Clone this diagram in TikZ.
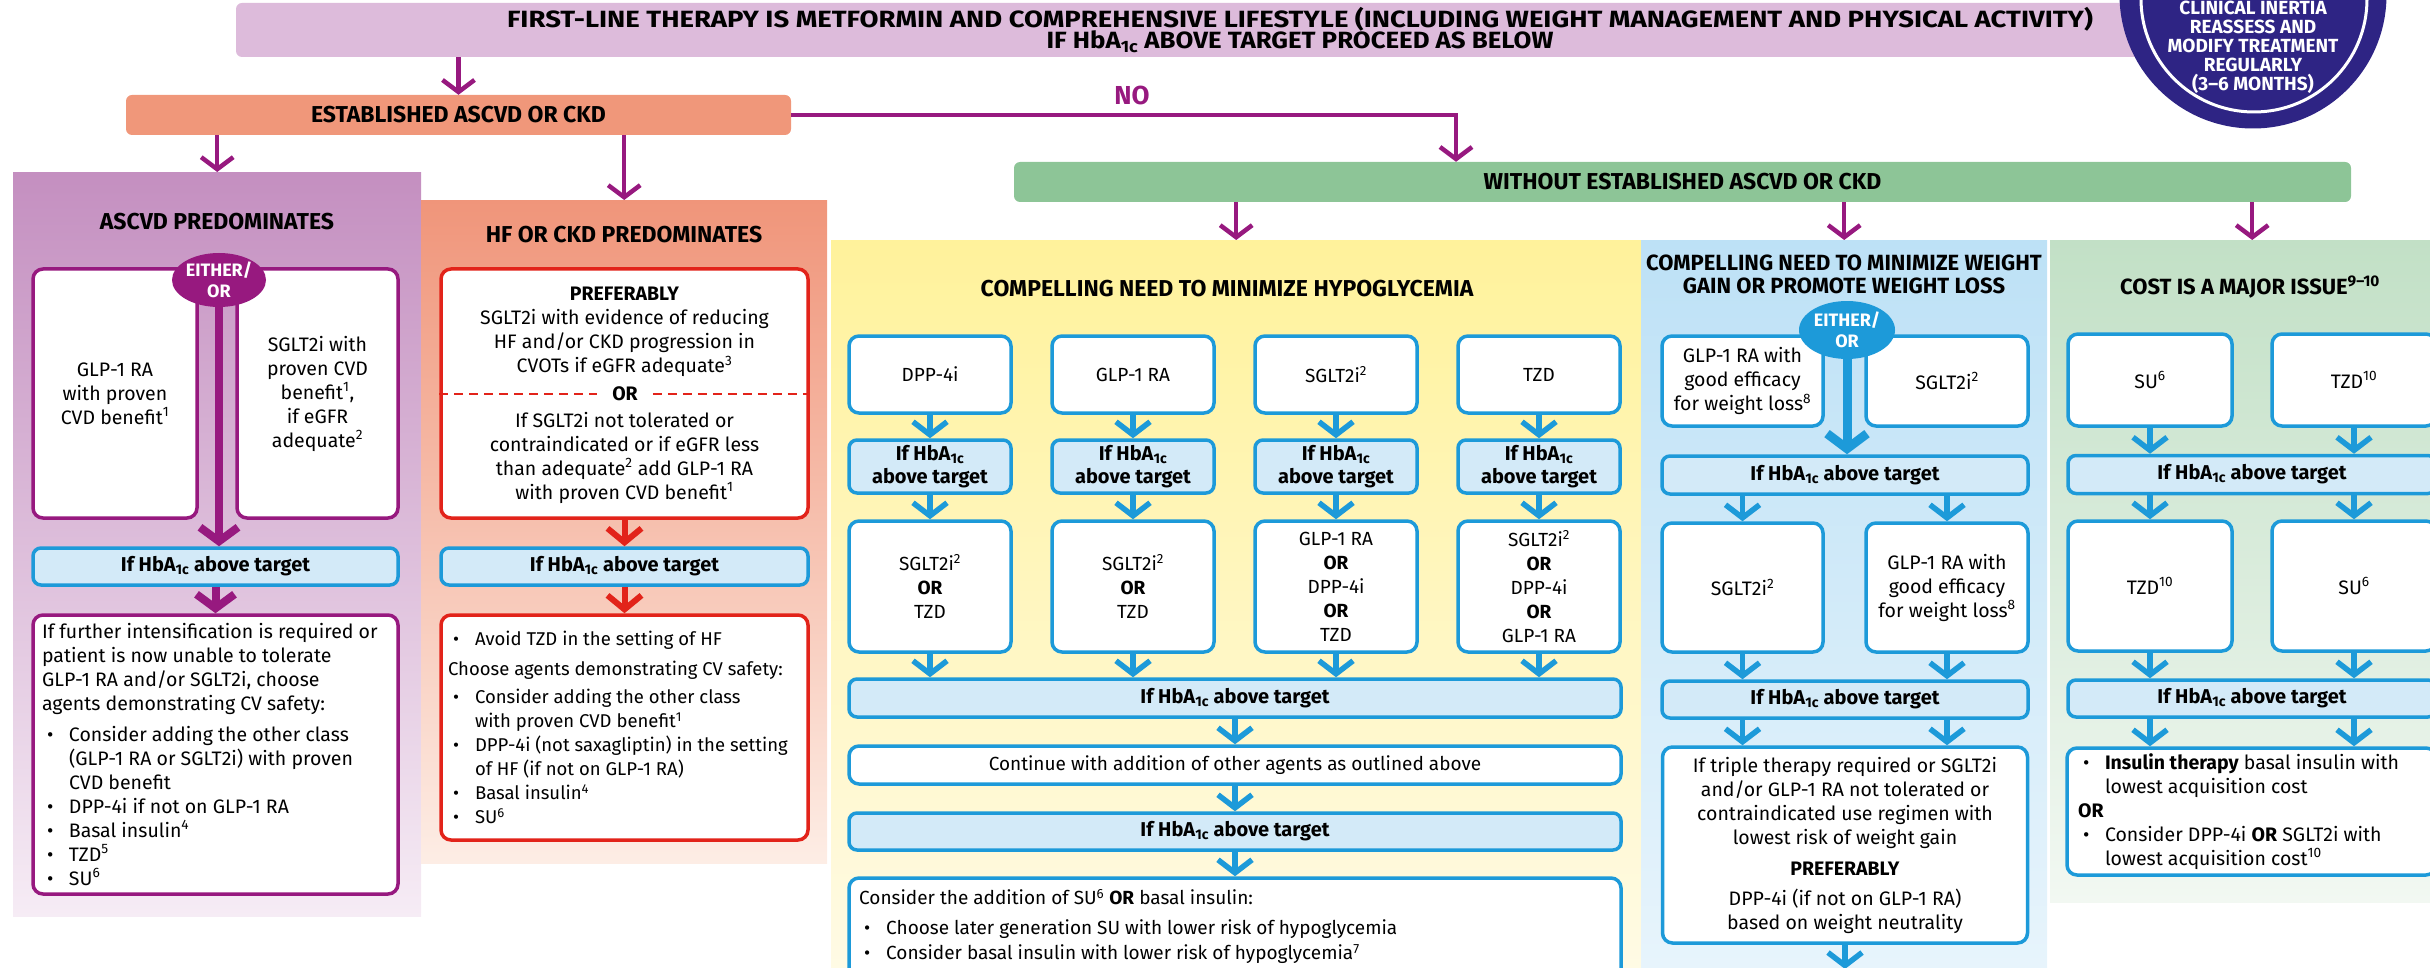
\documentclass[tikz,border=0pt]{standalone}
\usepackage{fontspec}
\setmainfont{Fira Sans}
\newfontfamily\widefont[FakeStretch=1.17]{Fira Sans}
\newfontfamily\semiwidefont[FakeStretch=1.1]{Fira Sans}
\usetikzlibrary{arrows.meta,shapes.geometric}

\definecolor{navy}{HTML}{2E2484}
\definecolor{plum}{HTML}{97197F}
\definecolor{hdrpink}{HTML}{DDBBDB}
\definecolor{salmon}{HTML}{F0977A}
\definecolor{leaf}{HTML}{8DC597}
\definecolor{sky}{HTML}{1D9AD9}
\definecolor{skyfill}{HTML}{D3EAF8}
\definecolor{alarm}{HTML}{E2231A}
\definecolor{ascTop}{HTML}{C48FC0}
\definecolor{ascBot}{HTML}{F6ECF5}
\definecolor{hfTop}{HTML}{F0957A}
\definecolor{hfBot}{HTML}{FDEDE5}
\definecolor{hypTop}{HTML}{FFF29B}
\definecolor{hypBot}{HTML}{FFFBE8}
\definecolor{wtTop}{HTML}{BDE1F6}
\definecolor{wtBot}{HTML}{E9F5FC}
\definecolor{costTop}{HTML}{C2E0C6}
\definecolor{costBot}{HTML}{F2F8F2}

\newcommand{\hba}{HbA\textsubscript{1c}}
\newcommand{\bul}{\par\hangindent=27pt\hangafter=1\noindent\makebox[27pt][l]{\hspace{5pt}\textbullet}}
\newcommand{\tightlines}{\setlength{\lineskiplimit}{-10pt}}

\tikzset{
  hdrbox/.style={rectangle, rounded corners=6pt, inner sep=0pt, align=center,
    font=\bfseries\fontsize{23}{21}\selectfont\tightlines},
  column/.style={rectangle, inner sep=0pt, anchor=north west},
  coltitle/.style={align=center, font=\bfseries\fontsize{22}{23}\selectfont},
  pbox/.style={draw=plum, line width=3.5pt, fill=white, rounded corners=10pt,
    align=center, inner sep=0pt, font=\fontsize{19.5}{24}\selectfont},
  rbox/.style={pbox, draw=alarm},
  wbox/.style={pbox, draw=sky},
  ybox/.style={wbox, font=\fontsize{19}{24}\selectfont},
  hbabox/.style={draw=sky, line width=3.5pt, fill=skyfill, rounded corners=8pt,
    align=center, inner sep=0pt, font=\bfseries\fontsize{20}{23}\selectfont},
  either/.style={ellipse, inner sep=0pt, text=white, align=center,
    font=\bfseries\fontsize{18}{21}\selectfont},
  parr/.style={draw=plum, line width=4.5pt, -{Straight Barb[length=12pt,width=32pt]}},
  parrw/.style={parr, line width=8pt, -{Straight Barb[length=14pt,width=38pt]}},
  rarr/.style={draw=alarm, line width=6pt, -{Straight Barb[length=14pt,width=34pt]}},
  barr/.style={draw=sky, line width=5.5pt, -{Straight Barb[length=13pt,width=34pt]}},
  barrw/.style={barr, line width=9pt, -{Straight Barb[length=15pt,width=40pt]}},
}

\begin{document}
\begin{tikzpicture}[x=1pt, y=-1pt]
\useasboundingbox (0,0) rectangle (2430,968);
\clip (0,0) rectangle (2430,968);

% Header and reminder circle
\node[hdrbox, fill=hdrpink, minimum width=2128pt, minimum height=54pt, font=\bfseries\fontsize{23.5}{21}\selectfont\tightlines] (hdr) at (1300,30)
  {{\widefont FIRST-LINE THERAPY IS METFORMIN AND COMPREHENSIVE LIFESTYLE (INCLUDING WEIGHT MANAGEMENT AND PHYSICAL ACTIVITY)}\\{\semiwidefont IF \hba{} ABOVE TARGET PROCEED AS BELOW}};
\node[circle, fill=navy, inner sep=0pt, minimum size=267pt] (inertia) at (2253,-5) {};
\node[circle, draw=white, line width=3pt, inner sep=0pt, minimum size=226pt] (ring) at (2254,-1) {};
\node[align=center, text=white, font=\bfseries\fontsize{19}{19}\selectfont\tightlines] (inertiatxt) at (2253,47.5)
  {CLINICAL INERTIA\\REASSESS AND\\MODIFY TREATMENT\\REGULARLY\\(3--6 MONTHS)};

% Second level
\node[hdrbox, fill=salmon, minimum width=665pt, minimum height=40pt] (est) at (458.5,115) {ESTABLISHED ASCVD OR CKD};
\node[text=plum, font=\bfseries\fontsize{26}{26}\selectfont] (no) at (1132,95) {NO};
\node[hdrbox, fill=leaf, minimum width=1337pt, minimum height=40pt] (green) at (1682.5,182) {WITHOUT ESTABLISHED ASCVD OR CKD};
\coordinate (turn) at (1456,115);

% Columns
\node[column, top color=ascTop, bottom color=ascBot, minimum width=408pt, minimum height=744pt] (asc) at (13,172) {};
\node[column, top color=hfTop, bottom color=hfBot, minimum width=406pt, minimum height=663pt] (hf) at (421,200) {};
\node[column, top color=hypTop, bottom color=hypBot, minimum width=810pt, minimum height=760pt] (hypo) at (831,240) {};
\node[column, top color=wtTop, bottom color=wtBot, minimum width=406pt, minimum height=760pt] (wt) at (1641,240) {};
\node[column, top color=costTop, bottom color=costBot, minimum width=404pt, minimum height=662pt] (cost) at (2050,240) {};

% ASCVD predominates
\node[coltitle, font=\bfseries\fontsize{23}{23}\selectfont] (asctitle) at (217,222) {ASCVD PREDOMINATES};
\node[pbox, minimum width=164pt, minimum height=249pt] (aglp) at (115,393.5) {GLP-1 RA\\with proven\\CVD benefit\textsuperscript{1}};
\node[pbox, minimum width=161pt, minimum height=249pt] (asglt) at (317.5,393.5) {SGLT2i with\\proven CVD\\benefit\textsuperscript{1},\\if eGFR\\adequate\textsuperscript{2}};
\node[either, fill=plum, minimum width=94pt, minimum height=54pt] (aeith) at (219,280) {EITHER/\\OR};
\node[hbabox, minimum width=365pt, minimum height=37pt] (ahba) at (215.5,566.5) {If \hba{} above target};
\node[pbox, inner xsep=9pt, minimum width=365pt, minimum height=279pt] (abot) at (215.5,754.5)
  {\begin{minipage}{347pt}\raggedright
   If further intensification is required or\newline patient is now unable to tolerate\newline GLP-1 RA and/or SGLT2i, choose\newline agents demonstrating CV safety:\par\vspace{7pt}
   \bul Consider adding the other class\newline (GLP-1 RA or SGLT2i) with proven\newline CVD benefit
   \bul DPP-4i if not on GLP-1 RA
   \bul Basal insulin\textsuperscript{4}
   \bul TZD\textsuperscript{5}
   \bul SU\textsuperscript{6}
   \end{minipage}};

% HF or CKD predominates
\node[coltitle, font=\bfseries\fontsize{23}{23}\selectfont] (hftitle) at (624,235) {HF OR CKD PREDOMINATES};
\node[rbox, minimum width=367pt, minimum height=249pt] (hfpref) at (624.5,393.5) {};
\node[align=center, font=\fontsize{19.5}{24}\selectfont] (hfup) at (624.5,332)
  {\textbf{PREFERABLY}\\SGLT2i with evidence of reducing\\HF and/or CKD progression in\\CVOTs if eGFR adequate\textsuperscript{3}};
\node[inner xsep=15pt, font=\bfseries\fontsize{19.5}{20}\selectfont] (hfor) at (625,394) {OR};
\node[align=center, font=\fontsize{19.5}{24}\selectfont] (hflow) at (624.5,457.5)
  {If SGLT2i not tolerated or\\contraindicated or if eGFR less\\than adequate\textsuperscript{2} add GLP-1 RA\\with proven CVD benefit\textsuperscript{1}};
\draw[alarm, line width=2.5pt, dash pattern=on 9pt off 6pt] (hfpref.west |- hfor) -- (hfor.west);
\draw[alarm, line width=2.5pt, dash pattern=on 9pt off 6pt] (hfor.east) -- (hfpref.east |- hfor);
\node[hbabox, minimum width=367pt, minimum height=37pt] (hfhba) at (624.5,566.5) {If \hba{} above target};
\node[rbox, inner xsep=7pt, minimum width=367pt, minimum height=225pt, font=\fontsize{18.5}{24}\selectfont] (hfbot) at (624.5,727.5)
  {\begin{minipage}{353pt}\raggedright
   \bul Avoid TZD in the setting of HF\par\vspace{6pt}
   \noindent Choose agents demonstrating CV safety:\par\vspace{4pt}
   \bul Consider adding the other class\newline with proven CVD benefit\textsuperscript{1}
   \bul DPP-4i (not saxagliptin) in the setting\newline of HF (if not on GLP-1 RA)
   \bul Basal insulin\textsuperscript{4}
   \bul SU\textsuperscript{6}
   \end{minipage}};

% Compelling need to minimize hypoglycemia
\node[coltitle, font=\bfseries\fontsize{23}{23}\selectfont] (ytitle) at (1227,289) {COMPELLING NEED TO MINIMIZE HYPOGLYCEMIA};
\foreach \i/\lab in {1/DPP-4i, 2/GLP-1 RA, 3/SGLT2i\textsuperscript{2}, 4/TZD} {
  \node[ybox, minimum width=162pt, minimum height=77pt] (ya\i) at ({930+203*(\i-1)},374.5) {\lab};
  \node[hbabox, minimum width=162pt, minimum height=53pt] (yb\i) at ({930+203*(\i-1)},466.5) {If \hba\\above target};
}
\node[ybox, minimum width=162pt, minimum height=131pt] (yc1) at (930,586.5) {SGLT2i\textsuperscript{2}\\\textbf{OR}\\TZD};
\node[ybox, minimum width=162pt, minimum height=131pt] (yc2) at (1133,586.5) {SGLT2i\textsuperscript{2}\\\textbf{OR}\\TZD};
\node[ybox, minimum width=162pt, minimum height=131pt] (yc3) at (1336,586.5) {GLP-1 RA\\\textbf{OR}\\DPP-4i\\\textbf{OR}\\TZD};
\node[ybox, minimum width=162pt, minimum height=131pt] (yc4) at (1539,586.5) {SGLT2i\textsuperscript{2}\\\textbf{OR}\\DPP-4i\\\textbf{OR}\\GLP-1 RA};
\node[hbabox, minimum width=772pt, minimum height=38pt] (yhba) at (1235,698) {If \hba{} above target};
\node[ybox, minimum width=772pt, minimum height=38pt] (ycont) at (1235,765) {Continue with addition of other agents as outlined above};
\node[hbabox, minimum width=772pt, minimum height=37pt] (yhbb) at (1235,831.5) {If \hba{} above target};
\node[ybox, minimum width=772pt, minimum height=122pt] (ybot) at (1235,939) {};
\node[inner sep=0pt, anchor=north west, font=\fontsize{19}{25}\selectfont] (ybottxt) at (859,889)
  {\begin{minipage}{740pt}\raggedright
   Consider the addition of SU\textsuperscript{6} \textbf{OR} basal insulin:\par\vspace{5pt}
   \bul Choose later generation SU with lower risk of hypoglycemia
   \bul Consider basal insulin with lower risk of hypoglycemia\textsuperscript{7}
   \end{minipage}};

% Compelling need to minimize weight gain
\node[coltitle] (wttitle) at (1844,274) {COMPELLING NEED TO MINIMIZE WEIGHT\\GAIN OR PROMOTE WEIGHT LOSS};
\node[wbox, minimum width=161pt, minimum height=90pt] (wal) at (1742.5,381) {GLP-1 RA with\\good efficacy\\for weight loss\textsuperscript{8}};
\node[wbox, minimum width=162pt, minimum height=90pt] (war) at (1947,381) {SGLT2i\textsuperscript{2}};
\node[either, fill=sky, minimum width=96pt, minimum height=58pt] (weith) at (1847,330) {EITHER/\\OR};
\node[hbabox, minimum width=366pt, minimum height=38pt] (whba) at (1845,475) {If \hba{} above target};
\node[wbox, minimum width=161pt, minimum height=129pt] (wbl) at (1742.5,587.5) {SGLT2i\textsuperscript{2}};
\node[wbox, minimum width=162pt, minimum height=129pt] (wbr) at (1947,587.5) {GLP-1 RA with\\good efficacy\\for weight loss\textsuperscript{8}};
\node[hbabox, minimum width=366pt, minimum height=37pt] (whbb) at (1845,699.5) {If \hba{} above target};
\node[wbox, minimum width=365pt, minimum height=196pt] (wbot) at (1845,845)
  {If triple therapy required or SGLT2i\\and/or GLP-1 RA not tolerated or\\contraindicated use regimen with\\lowest risk of weight gain\\[7pt]\textbf{PREFERABLY}\\[6pt]DPP-4i (if not on GLP-1 RA)\\based on weight neutrality};
\coordinate (wend) at (1845,969);

% Cost is a major issue
\node[coltitle] (costtitle) at (2250,287) {COST IS A MAJOR ISSUE\textsuperscript{9--10}};
\node[wbox, minimum width=164pt, minimum height=92pt] (cal) at (2150,380) {SU\textsuperscript{6}};
\node[wbox, minimum width=164pt, minimum height=92pt] (car) at (2354,380) {TZD\textsuperscript{10}};
\node[hbabox, minimum width=368pt, minimum height=38pt] (chba) at (2252,474.5) {If \hba{} above target};
\node[wbox, minimum width=164pt, minimum height=130pt] (cbl) at (2150,586) {TZD\textsuperscript{10}};
\node[wbox, minimum width=164pt, minimum height=130pt] (cbr) at (2354,586) {SU\textsuperscript{6}};
\node[hbabox, minimum width=368pt, minimum height=37pt] (chbb) at (2252,698.5) {If \hba{} above target};
\node[wbox, inner xsep=11pt, minimum width=369pt, minimum height=127pt] (cbot) at (2251.5,811.5)
  {\begin{minipage}{347pt}\raggedright
   \bul \textbf{Insulin therapy} basal insulin with\newline lowest acquisition cost
   \par\noindent\textbf{OR}
   \bul Consider DPP-4i \textbf{OR} SGLT2i with\newline lowest acquisition cost\textsuperscript{10}
   \end{minipage}};

% Purple connectors
\draw[parr] (hdr.south -| est.north) -- (est.north);
\draw[parr] (est.east) -| (turn |- green.north);
\draw[parr] (est.south -| asc.north) -- (asc.north);
\draw[parr] (est.south -| hf.north) -- (hf.north);
\foreach \c in {hypo, wt, cost}
  \draw[parr] (green.south -| \c.north) -- (\c.north);
\draw[parrw] (aeith.south) -- (aeith.south |- ahba.north);
\draw[parrw] (ahba.south) -- (abot.north);

% Red connectors
\draw[rarr] (hfpref.south) -- (hfhba.north);
\draw[rarr] (hfhba.south) -- (hfbot.north);

% Blue connectors
\foreach \i in {1,...,4} {
  \draw[barr] (ya\i.south) -- (yb\i.north);
  \draw[barr] (yb\i.south) -- (yc\i.north);
  \draw[barr] (yc\i.south) -- (yc\i.south |- yhba.north);
}
\draw[barr] (yhba.south) -- (ycont.north);
\draw[barr] (ycont.south) -- (yhbb.north);
\draw[barr] (yhbb.south) -- (ybot.north);
\draw[barrw] (weith.south) -- (weith.south |- whba.north);
\foreach \s in {l,r} {
  \draw[barr] (whba.south -| wb\s) -- (wb\s.north);
  \draw[barr] (wb\s.south) -- (wb\s.south |- whbb.north);
  \draw[barr] (whbb.south -| wb\s) -- (wbot.north -| wb\s);
  \draw[barr] (ca\s.south) -- (ca\s.south |- chba.north);
  \draw[barr] (chba.south -| cb\s) -- (cb\s.north);
  \draw[barr] (cb\s.south) -- (cb\s.south |- chbb.north);
  \draw[barr] (chbb.south -| cb\s) -- (cbot.north -| cb\s);
}
\draw[barr] (wbot.south) -- (wend);
\end{tikzpicture}
\end{document}
